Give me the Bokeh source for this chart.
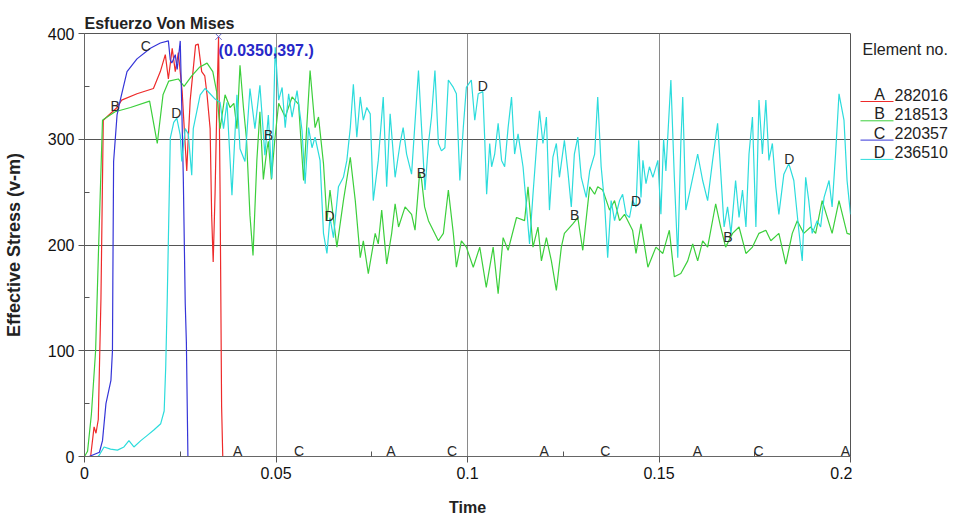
from bokeh.plotting import figure
from bokeh.models import Range1d, FixedTicker, Label, LabelSet, ColumnDataSource
from bokeh.layouts import row
from bokeh.embed import file_html
from bokeh.resources import INLINE
from bokeh.core.properties import value
import numpy as np

FONT = "Liberation Sans"

title_text = "Esfuerzo Von Mises"
x_label = "Time"
y_label = "Effective Stress (v-m)"
legend_title = "Element no."
series_letters = ["A", "B", "C", "D"]
element_ids = ["282016", "218513", "220357", "236510"]
colors = ["#ee2a2a", "#3ccf3c", "#3535d8", "#2cdcdc"]

x_ticks = [0, 0.05, 0.1, 0.15, 0.2]
x_tick_labels = ["0", "0.05", "0.1", "0.15", "0.2"]
x_minor = [0.025, 0.075, 0.125, 0.175]
y_ticks = [0, 100, 200, 300, 400]
y_tick_labels = ["0", "100", "200", "300", "400"]
y_minor = [50, 150, 250, 350]

# (time, effective stress)
a_pts = [(0, 0), (0.0016, 0), (0.0025, 28), (0.003, 22), (0.0036, 35), (0.0043, 150), (0.0049, 318),
         (0.0085, 330), (0.0097, 337), (0.0137, 343), (0.018, 348), (0.0198, 364), (0.0211, 380),
         (0.0219, 357), (0.0229, 386), (0.0237, 364), (0.0245, 382), (0.0255, 345), (0.0263, 294),
         (0.0267, 270), (0.027, 294), (0.0276, 337), (0.029, 389), (0.0297, 390), (0.0306, 364),
         (0.0314, 360), (0.032, 342), (0.0328, 310), (0.0332, 228), (0.0336, 184), (0.0341, 250),
         (0.0346, 340), (0.035, 397), (0.0354, 250), (0.0358, 47), (0.0361, 0), (0.2, 0)]

b_pts = [(0, 0), (0.0008, 5), (0.0018, 40), (0.0029, 100), (0.0037, 200), (0.0047, 318), (0.0055, 320),
         (0.008, 326), (0.012, 330), (0.017, 336), (0.019, 296), (0.0205, 342), (0.022, 355), (0.0245, 357),
         (0.026, 350), (0.028, 360), (0.030, 368), (0.032, 372), (0.0335, 364), (0.0345, 345), (0.0354, 310),
         (0.0367, 342), (0.038, 330), (0.039, 334), (0.0398, 310), (0.0406, 370), (0.0415, 330), (0.0423, 300),
         (0.0432, 228), (0.044, 190), (0.045, 280), (0.0458, 326), (0.0467, 262), (0.0476, 290), (0.048, 298),
         (0.0488, 262), (0.0497, 300), (0.0507, 334), (0.0524, 321), (0.0542, 340), (0.0559, 333), (0.0572, 261),
         (0.0589, 365), (0.0602, 311), (0.0611, 321), (0.0624, 277), (0.0633, 223), (0.0641, 252), (0.0659, 198),
         (0.0676, 242), (0.0694, 283), (0.0707, 242), (0.072, 188), (0.0728, 204), (0.0741, 173), (0.0759, 211),
         (0.0767, 201), (0.0776, 233), (0.0789, 182), (0.0802, 211), (0.0811, 239), (0.082, 217), (0.0837, 236),
         (0.0854, 229), (0.0863, 214), (0.0875, 268), (0.088, 262), (0.0888, 236), (0.0898, 223), (0.0924, 204),
         (0.0937, 211), (0.095, 252), (0.0963, 211), (0.0971, 179), (0.0984, 204), (0.0997, 198), (0.1015, 179),
         (0.1032, 198), (0.1049, 160), (0.1067, 198), (0.108, 154), (0.1093, 207), (0.1106, 195), (0.1128, 226),
         (0.1149, 223), (0.1158, 255), (0.1171, 198), (0.1184, 217), (0.1193, 185), (0.1206, 207), (0.1219, 185),
         (0.1232, 157), (0.1245, 198), (0.1253, 211), (0.1275, 220), (0.1288, 226), (0.1301, 195), (0.1319, 255),
         (0.1332, 248), (0.134, 255), (0.1353, 252), (0.1371, 233), (0.1384, 242), (0.1397, 223), (0.141, 229),
         (0.1431, 214), (0.144, 192), (0.1453, 220), (0.1471, 179), (0.1492, 198), (0.151, 192), (0.1527, 214),
         (0.154, 170), (0.1557, 173), (0.1575, 185), (0.1588, 201), (0.1601, 185), (0.1614, 204), (0.1627, 198),
         (0.1648, 239), (0.1661, 217), (0.1674, 198), (0.1692, 211), (0.1709, 217), (0.1727, 192), (0.1744, 198),
         (0.1761, 211), (0.1779, 214), (0.1792, 204), (0.1813, 211), (0.1831, 182), (0.1848, 211), (0.1861, 223),
         (0.1878, 211), (0.1896, 217), (0.1909, 211), (0.1926, 242), (0.1952, 211), (0.197, 242), (0.1991, 211),
         (0.2, 210)]

c_pts = [(0, 0), (0.0012, 0), (0.0039, 4), (0.0047, 15), (0.0056, 50), (0.0069, 72), (0.0073, 100),
         (0.0074, 165), (0.0076, 279), (0.0085, 323), (0.0094, 338), (0.0111, 364), (0.0137, 376),
         (0.0172, 386), (0.0198, 391), (0.0219, 393), (0.0224, 375), (0.0228, 372), (0.0237, 380),
         (0.0242, 366), (0.025, 393), (0.0254, 330), (0.0258, 263), (0.0263, 145), (0.0266, 108),
         (0.027, 0), (0.2, 0)]

d_pts = [(0, 0), (0.0035, 0), (0.0038, 1), (0.0051, 9), (0.0068, 7), (0.0086, 6), (0.0103, 9), (0.0116, 15),
         (0.0129, 9), (0.0147, 15), (0.0164, 20), (0.0181, 25), (0.0199, 31), (0.0208, 43), (0.0212, 84),
         (0.0216, 148), (0.0224, 301), (0.0233, 316), (0.0241, 320), (0.025, 304), (0.0254, 279), (0.0263, 310),
         (0.0271, 305), (0.028, 266), (0.0284, 310), (0.0302, 342), (0.0315, 348), (0.0328, 343), (0.0341, 338),
         (0.0354, 335), (0.0363, 310), (0.0372, 335), (0.0385, 247), (0.0398, 342), (0.0406, 291), (0.0419, 279),
         (0.0432, 348), (0.0445, 310), (0.0458, 351), (0.0471, 285), (0.048, 323), (0.0489, 263), (0.0494, 330),
         (0.0498, 387), (0.0507, 337), (0.0516, 349), (0.0524, 311), (0.0533, 343), (0.0542, 321), (0.0555, 346),
         (0.0568, 308), (0.0576, 258), (0.0585, 311), (0.0594, 292), (0.0602, 302), (0.0615, 280), (0.0624, 211),
         (0.0633, 192), (0.0641, 226), (0.065, 207), (0.0663, 255), (0.0676, 264), (0.0685, 280), (0.0694, 311),
         (0.0702, 352), (0.0711, 302), (0.072, 340), (0.0728, 318), (0.0737, 330), (0.0746, 324), (0.0754, 242),
         (0.0767, 280), (0.078, 340), (0.0789, 255), (0.0798, 324), (0.0811, 264), (0.0824, 296), (0.0832, 311),
         (0.0841, 286), (0.0854, 267), (0.0872, 365), (0.088, 311), (0.0889, 252), (0.0898, 296), (0.0906, 321),
         (0.0915, 365), (0.0924, 296), (0.0932, 289), (0.0941, 292), (0.095, 356), (0.0963, 349), (0.0971, 343),
         (0.098, 261), (0.0989, 311), (0.0997, 349), (0.101, 356), (0.1019, 318), (0.1028, 343), (0.104, 345),
         (0.1045, 300), (0.105, 248), (0.1058, 296), (0.1063, 274), (0.1071, 286), (0.108, 315), (0.1089, 280),
         (0.1097, 274), (0.1106, 311), (0.1115, 340), (0.1123, 286), (0.1132, 305), (0.1145, 274), (0.1154, 236),
         (0.1162, 201), (0.1171, 248), (0.118, 292), (0.1188, 327), (0.1197, 296), (0.1206, 321), (0.1214, 233),
         (0.1223, 283), (0.1232, 296), (0.124, 264), (0.1253, 299), (0.1262, 270), (0.1271, 236), (0.1279, 286),
         (0.1288, 302), (0.1297, 264), (0.131, 245), (0.1319, 270), (0.1332, 286), (0.134, 340), (0.1349, 274),
         (0.1358, 239), (0.1366, 188), (0.1375, 242), (0.1384, 223), (0.1397, 242), (0.1405, 248), (0.1414, 229),
         (0.1423, 226), (0.1431, 242), (0.144, 236), (0.1447, 299), (0.1453, 245), (0.1458, 280), (0.1466, 258),
         (0.1475, 274), (0.1484, 264), (0.1497, 280), (0.1505, 229), (0.1512, 300), (0.1518, 270), (0.1531, 356),
         (0.154, 264), (0.1549, 188), (0.1557, 296), (0.1562, 340), (0.157, 233), (0.1583, 255), (0.1601, 286),
         (0.1614, 261), (0.1627, 242), (0.164, 280), (0.1653, 315), (0.1661, 270), (0.167, 217), (0.1679, 236),
         (0.1688, 211), (0.17, 261), (0.1709, 226), (0.1718, 252), (0.1727, 217), (0.1735, 286), (0.1744, 321),
         (0.1753, 217), (0.1761, 337), (0.177, 286), (0.1779, 337), (0.1787, 280), (0.1796, 296), (0.1805, 255),
         (0.1813, 229), (0.1826, 267), (0.1839, 277), (0.1852, 261), (0.1865, 214), (0.1874, 185), (0.1883, 264),
         (0.1891, 242), (0.19, 211), (0.1913, 223), (0.1922, 217), (0.1931, 245), (0.1944, 261), (0.1952, 236),
         (0.1961, 286), (0.197, 343), (0.1983, 318), (0.1991, 261), (0.2, 229)]

# times at which the curve letters are printed
letter_times = {
    "A": [0.04, 0.08, 0.12, 0.16, 0.2],
    "B": [0.008, 0.048, 0.088, 0.128, 0.168],
    "C": [0.016, 0.056, 0.096, 0.136, 0.176],
    "D": [0.024, 0.064, 0.104, 0.144, 0.184],
}

series = [a_pts, b_pts, c_pts, d_pts]

X0, X1, Y0, Y1 = 0.0, 0.2, 0.0, 400.0
H = 519
W_MAIN, W_LEG = 852, 100
FR_L, FR_R, FR_T, FR_B = 82, 850, 33, 456      # frame edges in page pixels

p = figure(width=W_MAIN, height=H, x_range=Range1d(X0, X1), y_range=Range1d(Y0, Y1),
           output_backend="svg", toolbar_location=None, title=title_text,
           min_border_left=FR_L, min_border_right=W_MAIN - FR_R, min_border_top=FR_T,
           min_border_bottom=H - FR_B)
p.background_fill_color = "white"
p.border_fill_color = "white"
p.outline_line_color = "#555555"
p.title.text_font = FONT
p.title.text_font_size = "16px"
p.title.text_font_style = "bold"
p.title.text_color = "#222222"
p.title.standoff = 4

for ax in (p.xaxis[0], p.yaxis[0]):
    ax.axis_line_color = "#666666"
    ax.major_tick_line_color = "#555555"
    ax.minor_tick_line_color = "#555555"
    ax.major_tick_out = 6
    ax.major_tick_in = 0
    ax.minor_tick_in = 5
    ax.minor_tick_out = 0
    ax.major_label_standoff = 4
    ax.major_label_text_font = FONT
    ax.major_label_text_font_size = "16px"
    ax.major_label_text_color = "#111111"
    ax.axis_label_text_font = FONT
    ax.axis_label_text_font_style = "bold"
    ax.axis_label_text_color = "#222222"

p.xaxis.ticker = FixedTicker(ticks=x_ticks, minor_ticks=x_minor)
p.xaxis.major_label_overrides = {t: s for t, s in zip(x_ticks, x_tick_labels)}
p.xaxis.axis_label = x_label
p.xaxis.axis_label_text_font_size = "16px"
p.xaxis.axis_label_standoff = 17

p.yaxis.ticker = FixedTicker(ticks=y_ticks, minor_ticks=y_minor)
p.yaxis.major_label_overrides = {t: s for t, s in zip(y_ticks, y_tick_labels)}
p.yaxis.axis_label = y_label
p.yaxis.axis_label_text_font_size = "18px"
p.yaxis.axis_label_standoff = 21

p.xgrid.ticker = FixedTicker(ticks=x_ticks[1:-1])
p.xgrid.grid_line_color = "#8a8a8a"
p.ygrid.ticker = FixedTicker(ticks=y_ticks[1:-1])
p.ygrid.grid_line_color = "#555555"

for pts, col in zip(series, colors):
    t = [q[0] for q in pts]
    v = [q[1] for q in pts]
    p.line(t, v, line_color=col, line_width=1.2)

for pts, letter in zip(series, series_letters):
    t = np.array([q[0] for q in pts])
    v = np.array([q[1] for q in pts])
    lt = letter_times[letter]
    lv = np.interp(lt, t, v)
    xo = [-5 if x >= X1 else 0 for x in lt]     # keep the last letter inside the frame
    src = ColumnDataSource(dict(x=lt, y=list(lv), text=[letter] * len(lt), xo=xo))
    p.add_layout(LabelSet(x="x", y="y", text="text", source=src, y_offset=1, x_offset="xo",
                          text_font=value(FONT), text_font_size="14px", text_align="center",
                          text_baseline="alphabetic", text_color="#2a2a2a"))

# peak of element A, with its read-out
a_t = np.array([q[0] for q in a_pts])
a_v = np.array([q[1] for q in a_pts])
k = int(np.argmax(a_v))
p.scatter([a_t[k]], [a_v[k]], marker="x", size=9, line_color="#6a6ad0", line_width=1)
p.add_layout(Label(x=a_t[k], y=a_v[k], text="(%.4f,%d.)" % (a_t[k], a_v[k]),
                   x_offset=0, y_offset=-5, text_baseline="top", text_align="left",
                   text_font=FONT, text_font_size="16px", text_font_style="bold",
                   text_color="#2828c8"))

# legend panel; its frame is aligned with the main frame, values are page pixels
pl = figure(width=W_LEG, height=H, x_range=Range1d(W_MAIN, W_MAIN + W_LEG),
            y_range=Range1d(FR_B, FR_T), output_backend="svg", toolbar_location=None,
            x_axis_type=None, y_axis_type=None, min_border=0,
            min_border_top=FR_T, min_border_bottom=H - FR_B)
pl.outline_line_color = None
pl.background_fill_color = "white"
pl.border_fill_color = "white"
pl.text(x=[862], y=[49], text=[legend_title], text_font=value(FONT), text_font_size="16px",
        text_align="left", text_baseline="middle", text_color="#222222")
row_y = [94 + 19.3 * i for i in range(4)]
pl.segment(x0=[860] * 4, y0=[y + 7 for y in row_y], x1=[893] * 4, y1=[y + 7 for y in row_y],
           line_color=colors, line_width=1)
pl.text(x=[879] * 4, y=row_y, text=series_letters, text_font=value(FONT), text_font_size="16px",
        text_align="center", text_baseline="middle", text_color="#222222")
pl.text(x=[894] * 4, y=row_y, text=element_ids, text_font=value(FONT), text_font_size="16px",
        text_align="left", text_baseline="middle", text_color="#222222")

layout = row(p, pl)
open("out.html", "w").write(file_html(layout, INLINE))
